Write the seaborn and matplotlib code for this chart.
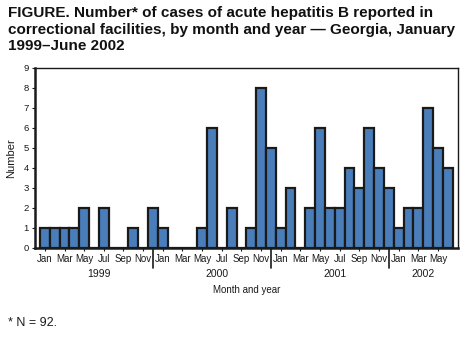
import numpy as np
import pandas as pd
import matplotlib
matplotlib.use("Agg")
import matplotlib.pyplot as plt
import seaborn as sns

# Monthly counts of acute hepatitis B cases, Jan 1999 - Jun 2002
years = [1999, 2000, 2001, 2002]
months = ["Jan", "Feb", "Mar", "Apr", "May", "Jun",
          "Jul", "Aug", "Sep", "Oct", "Nov", "Dec"]
cases_1999 = [1, 1, 1, 1, 2, 0, 2, 0, 0, 1, 0, 2]
cases_2000 = [1, 0, 0, 0, 1, 6, 0, 2, 0, 1, 8, 5]
cases_2001 = [1, 3, 0, 2, 6, 2, 2, 4, 3, 6, 4, 3]
cases_2002 = [1, 2, 2, 7, 5, 4]

series = [cases_1999, cases_2000, cases_2001, cases_2002]
rows = []
for yr, vals in zip(years, series):
    for m, v in enumerate(vals):
        rows.append({"period": f"{yr}-{m + 1:02d}", "year": yr,
                     "month": months[m], "cases": v})
df = pd.DataFrame(rows)

sns.set_theme(style="white")
plt.rcParams["font.family"] = ["Liberation Sans", "DejaVu Sans"]

fig = plt.figure(figsize=(4.77, 3.42), dpi=100)
ax = fig.add_axes([0.0734, 0.2749, 0.8861, 0.5263])

sns.barplot(data=df, x="period", y="cases", order=list(df["period"]),
            color="#4a7ebb", saturation=1, width=1.0,
            edgecolor="#1a1a1a", linewidth=1.6, ax=ax)

n = len(df)
ax.set_xlim(-1.0, n)
ax.set_ylim(0, 9)
ax.set_yticks(range(0, 10))
ax.tick_params(axis="y", labelsize=6.8, length=2.5, width=0.8,
               left=True, pad=2, colors="#1a1a1a")

# Odd months labelled along the bottom
tick_pos = [i for i, m in enumerate(df["month"]) if months.index(m) % 2 == 0]
ax.set_xticks(tick_pos)
ax.set_xticklabels([df["month"].iloc[i] for i in tick_pos])
ax.tick_params(axis="x", labelsize=7, length=2.5, width=0.8,
               bottom=True, pad=2, colors="#1a1a1a")

ax.set_xlabel("")
ax.set_ylabel("Number", fontsize=8, labelpad=5, color="#1a1a1a")

for side in ["top", "right"]:
    ax.spines[side].set_linewidth(1.0)
    ax.spines[side].set_color("#1a1a1a")
for side in ["left", "bottom"]:
    ax.spines[side].set_linewidth(1.8)
    ax.spines[side].set_color("#1a1a1a")

# Year separators and year labels beneath the month labels
trans = ax.get_xaxis_transform()
start = 0
for yr, vals in zip(years, series):
    end = start + len(vals)
    if len(vals) == 12 and end < n:
        ax.plot([end - 1 + 0.05, end - 1 + 0.05], [0, -0.11], transform=trans,
                color="#1a1a1a", lw=1.2, clip_on=False)
    center = (start + end - 1) / 2
    ax.text(center, -0.145, str(yr), transform=trans, ha="center", va="center",
            fontsize=7.5, color="#1a1a1a")
    start = end

ax.text(0.5, -0.235, "Month and year", transform=ax.transAxes,
        ha="center", va="center", fontsize=7, color="#1a1a1a")

fig.text(0.017, 0.982,
         "FIGURE. Number* of cases of acute hepatitis B reported in\n"
         "correctional facilities, by month and year \u2014 Georgia, January\n"
         "1999\u2013June 2002",
         ha="left", va="top", fontsize=11, fontweight="bold",
         linespacing=1.22, color="#111111")

fig.text(0.017, 0.055, "* N = 92.", ha="left", va="center",
         fontsize=9, color="#1a1a1a")

fig.savefig("out.png", dpi=100)
